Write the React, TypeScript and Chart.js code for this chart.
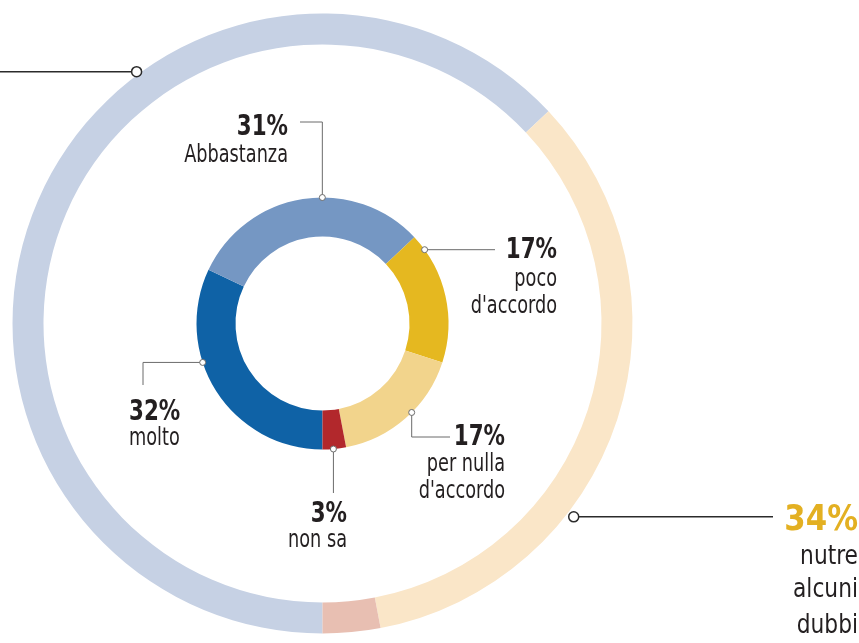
import React, { useEffect, useRef } from "react";
import { Chart, registerables } from "chart.js";

Chart.register(...registerables);

// ---- data ----
const innerLabels = ["molto", "Abbastanza", "poco d'accordo", "per nulla d'accordo", "non sa"];
const innerValues = [32, 31, 17, 17, 3];
const innerColors = ["#0f62a6", "#7597c3", "#e5b820", "#f2d48c", "#b2282c"];

const outerLabels = ["d'accordo", "nutre alcuni dubbi", "non sa"];
const outerValues = [63, 34, 3];
const outerColors = ["#c6d1e4", "#fae6c8", "#e8bfb2"];

// ---- annotation layout (relative to chart centre) ----
type Line = { text: string; dy: number; bold?: boolean; size: number; color?: string; sx?: number };
type Note = {
  ds: number; idx: number; frac: number; small: boolean; rOff: number;
  path: [number | null, number | null][];
  tx: number; align: CanvasTextAlign; lines: Line[];
};

const notes: Note[] = [
  { ds: 2, idx: 1, frac: 0.58, small: true, rOff: 0, path: [[null, -201.5], [-22.5, -201.5]], tx: -34.5, align: "right",
    lines: [{ text: "31%", dy: -188.5, bold: true, size: 29 }, { text: "Abbastanza", dy: -161.5, size: 24 }] },
  { ds: 2, idx: 2, frac: 0.12, small: true, rOff: 0, path: [[172.5, null]], tx: 234.5, align: "right",
    lines: [{ text: "17%", dy: -65.5, bold: true, size: 29 }, { text: "poco", dy: -37.5, size: 24 }, { text: "d'accordo", dy: -10.5, size: 24 }] },
  { ds: 2, idx: 3, frac: 0.44, small: true, rOff: 0, path: [[null, 113.5], [127.5, 113.5]], tx: 182.5, align: "right",
    lines: [{ text: "17%", dy: 121.5, bold: true, size: 29 }, { text: "per nulla", dy: 147.5, size: 24 }, { text: "d'accordo", dy: 174.5, size: 24 }] },
  { ds: 2, idx: 4, frac: 0.54, small: true, rOff: 0, path: [[null, 169.5]], tx: 24.5, align: "right",
    lines: [{ text: "3%", dy: 198.5, bold: true, size: 29 }, { text: "non sa", dy: 223.5, size: 24 }] },
  { ds: 2, idx: 0, frac: 0.625, small: true, rOff: 0, path: [[-179.5, null], [-179.5, 61.5]], tx: -193.5, align: "left",
    lines: [{ text: "32%", dy: 96.5, bold: true, size: 29 }, { text: "molto", dy: 121.5, size: 24 }] },
  { ds: 0, idx: 0, frac: 0.633, small: false, rOff: 3, path: [[-340, null]], tx: 0, align: "left", lines: [] },
  { ds: 0, idx: 1, frac: 0.66, small: false, rOff: 7, path: [[450.5, null]], tx: 535.5, align: "right",
    lines: [
      { text: "34%", dy: 206.5, bold: true, size: 36, color: "#e3b022", sx: 0.95 },
      { text: "nutre", dy: 240.5, size: 26, sx: 0.93 },
      { text: "alcuni", dy: 273.5, size: 26, sx: 0.93 },
      { text: "dubbi", dy: 309.5, size: 26, sx: 0.93 },
    ] },
];

const FONT = "'DejaVu Sans Condensed', 'DejaVu Sans', sans-serif";
const TEXT_SX = 0.82;

const notesPlugin = {
  id: "notes",
  afterDatasetsDraw(chart: any) {
    const ctx = chart.ctx as CanvasRenderingContext2D;
    const c0 = chart.getDatasetMeta(0).data[0] as any;
    const cx = c0.x, cy = c0.y;
    ctx.save();
    for (const n of notes) {
      const arc = chart.getDatasetMeta(n.ds).data[n.idx] as any;
      const a = arc.startAngle + (arc.endAngle - arc.startAngle) * n.frac;
      const r = arc.outerRadius + n.rOff;
      const ax = arc.x + r * Math.cos(a);
      const ay = arc.y + r * Math.sin(a);
      ctx.beginPath();
      ctx.strokeStyle = n.small ? "#6b6b6b" : "#2b2b2b";
      ctx.lineWidth = n.small ? 1 : 1.5;
      ctx.moveTo(ax, ay);
      for (const p of n.path) {
        const px = p[0] === null ? ax : cx + p[0];
        const py = p[1] === null ? ay : cy + p[1];
        ctx.lineTo(px, py);
      }
      ctx.stroke();
      ctx.beginPath();
      ctx.fillStyle = "#ffffff";
      ctx.arc(ax, ay, n.small ? 3 : 5, 0, Math.PI * 2);
      ctx.fill();
      ctx.stroke();
      ctx.textAlign = n.align;
      ctx.textBaseline = "alphabetic";
      for (const l of n.lines) {
        ctx.save();
        ctx.fillStyle = l.color || "#231f20";
        ctx.font = `${l.bold ? "bold " : ""}${l.size}px ${FONT}`;
        ctx.translate(cx + n.tx, cy + l.dy);
        ctx.scale(l.sx ?? TEXT_SX, 1);
        ctx.fillText(l.text, 0, 0);
        ctx.restore();
      }
    }
    ctx.restore();
  },
};

export default function App() {
  const ref = useRef<HTMLCanvasElement>(null);
  useEffect(() => {
    if (!ref.current) return;
    const chart = new Chart(ref.current, {
      type: "doughnut",
      data: {
        labels: innerLabels,
        datasets: [
          { label: "outer", data: outerValues, backgroundColor: outerColors, borderWidth: 0, weight: 31 } as any,
          { label: "spacer", data: [1], backgroundColor: ["rgba(0,0,0,0)"], borderWidth: 0, weight: 153 } as any,
          { label: "inner", data: innerValues, backgroundColor: innerColors, borderWidth: 0, weight: 39 } as any,
        ],
      },
      options: {
        animation: false,
        responsive: false,
        maintainAspectRatio: false,
        rotation: 180,
        radius: 310,
        cutout: "28.06%",
        layout: { padding: { left: 0, right: 214, top: 4, bottom: 0 } },
        plugins: { legend: { display: false }, tooltip: { enabled: false } },
        events: [],
      },
      plugins: [notesPlugin],
    });
    return () => chart.destroy();
  }, []);
  return (
    <div style={{ position: "absolute", left: 0, top: 0, width: 859, height: 643, background: "#fff" }}>
      <canvas ref={ref} width={859} height={643} style={{ width: 859, height: 643, display: "block" }} />
    </div>
  );
}
